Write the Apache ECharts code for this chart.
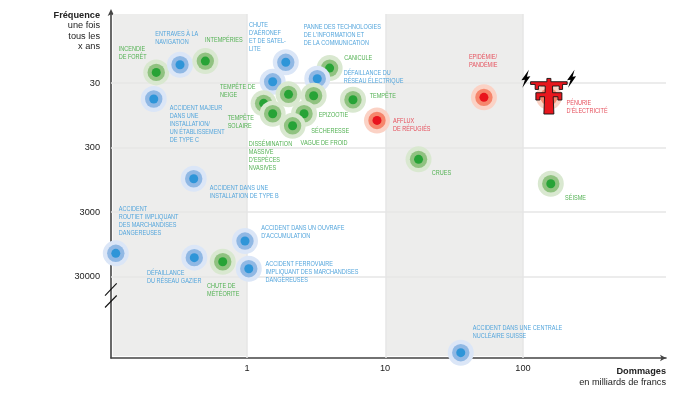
<!DOCTYPE html>
<html><head><meta charset="utf-8">
<style>html,body{margin:0;padding:0;background:#fff}#c{width:700px;height:393px}</style>
<script src="https://cdn.jsdelivr.net/npm/echarts@6/dist/echarts.min.js"></script>
</head><body><div id="c"></div>
<script>
// ---- data ----
const names = ["INCENDIE\nDE FORÊT","ENTRAVES À LA\nNAVIGATION","INTEMPÉRIES","CHUTE\nD'AÉRONEF\nET DE SATEL-\nLITE","PANNE DES TECHNOLOGIES\nDE L'INFORMATION ET\nDE LA COMMUNICATION","CANICULE","DÉFAILLANCE DU\nRÉSEAU ÉLECTRIQUE","ACCIDENT MAJEUR\nDANS UNE\nINSTALLATION/\nUN ÉTABLISSEMENT\nDE TYPE C","TEMPÊTE DE\nNEIGE","TEMPÊTE\nSOLAIRE","DISSÉMINATION\nMASSIVE\nD'ESPÈCES\nNVASIVES","EPIZOOTIE","SÉCHERESSE","VAGUE DE FROID","TEMPÊTE","AFFLUX\nDE RÉFUGIÉS","ACCIDENT DANS UNE\nINSTALLATION DE TYPE B","EPIDÉMIE/\nPANDÉMIE","PÉNURIE\nD'ÉLECTRICITÉ","CRUES","SÉISME","ACCIDENT\nROUTIET IMPLIQUANT\nDES MARCHANDISES\nDANGEREUSES","DÉFAILLANCE\nDU RÉSEAU GAZIER","CHUTE DE\nMÉTÉORITE","ACCIDENT DANS UN OUVRAFE\nD'ACCUMULATION","ACCIDENT FERROVIAIRE\nIMPLIQUANT DES MARCHANDISES\nDANGEREUSES","ACCIDENT DANS UNE CENTRALE\nNUCLÉAIRE SUISSE"];
const damages = [0.220,0.327,0.499,1.535,1.91,3.97,3.23,0.211,1.32,1.535,2.0,3.04,2.59,2.14,5.86,8.75,0.411,52.1,154,17.5,159,0.112,0.415,0.667,0.967,1.03,35.4];
const frequency = [20.5,15.6,13.7,28.7,14.3,17.6,25.7,53,61.9,89.8,44.9,47.2,89.8,138,54.5,114,914,50,48.9,457,1092,13100,15300,17700,8450,22700,455000];
const kinds = ["g","b","g","b","b","g","b","b","g","g","g","g","g","g","g","r","b","r","r","g","g","b","b","g","b","b","b"];
const yTicks = [30,300,3000,30000];
const xTicks = [1,10,100];
const shadedBands = [[0.1066,1],[10.2,100]];
const bandEdges = [1,10.2,100];
const yTitle = ["Fréquence","une fois","tous les","x ans"];
const xTitle = ["Dommages","en milliards de francs"];
const iconIndex = names.indexOf("PÉNURIE\nD'ÉLECTRICITÉ");

// ---- layout and style ----
const labelOffsets = [[-37.6,-23],[-24.7,-30.7],[-0.3,-21],[-23.7,-56.7],[18,-35.3],[14.6,-9.7],[26.4,-5.7],[16,8.7],[-43.7,-16.3],[-45,4],[-39.7,49.7],[5,19.3],[7.3,17.6],[8,17.6],[16.7,-3.4],[16,0.7],[16,9.3],[-15,-40],[17.7,6.6],[13.3,13.7],[14.3,14.6],[3,-44.6],[-47.3,15.6],[-15.7,24.3],[16.3,-13.3],[16.7,-4.7],[12,-24.4]];
const ringColors = {g:["#d9e8d0","#90c280","#27a336"],b:["#dbe6f7","#90b8e4","#2e95d8"],r:["#fbd2c5","#f6866c","#e9141d"]};
const textColors = {g:"#52b152",b:"#53a5dc",r:"#e6505c"};
const radii = [13,8.7,4.5];
const FONT = '"Liberation Sans",Arial,sans-serif';
const pylon = [[-2,-18.3],[2,-18.3],[2,-15],[18.3,-15],[18.3,-12.3],[13.7,-12.3],[13.7,-7.3],[10.3,-7.3],[10.3,-10.7],[3.7,-10.7],[3.7,-4],[13,-4],[13,3.3],[9,3.3],[9,0],[4.3,0],[5,17.3],[-5,17.3],[-4.3,0],[-9,0],[-9,3.3],[-13,3.3],[-13,-4],[-3.7,-4],[-3.7,-10.7],[-10.3,-10.7],[-10.3,-7.3],[-13.7,-7.3],[-13.7,-12.3],[-18.3,-12.3],[-18.3,-15],[-2,-15]];
const bolt = [[3,-9],[-4.5,1.5],[-1,1],[-3.5,9],[4.5,-2.5],[1,-2],[3,-9]];
const boltShift = [[-23,-18],[22.7,-18]];

const tableData = damages.map((d,i)=>[d,frequency[i],i]);
const chart = echarts.init(document.getElementById('c'),null,{renderer:'canvas'});

function titleText(lines,x,y0,step,firstBold){
  return lines.map((t,i)=>({type:'text',right:700-x,top:y0+i*step-5.5,silent:true,z:10,
    style:{text:t,font:(i===0&&firstBold?'bold ':'')+'9.2px "Liberation Sans",Arial,sans-serif',fill:'#222',textAlign:'right'}}));
}

chart.setOption({
  animation:false,
  backgroundColor:'#fff',
  grid:{left:111,right:34,top:14,bottom:35,containLabel:false},
  xAxis:{type:'log',logBase:10,min:0.1034,max:1087,
    axisLine:{onZero:false,symbol:['none','arrow'],symbolSize:[5,6],lineStyle:{color:'#444',width:1.6}},
    axisTick:{show:false},splitLine:{show:false},minorSplitLine:{show:false},
    axisLabel:{margin:6,fontSize:9.2,color:'#222',fontFamily:'"Liberation Sans",Arial,sans-serif',showMinLabel:true,showMaxLabel:true,hideOverlap:false,
      formatter:v=>{const m=xTicks.find(t=>Math.abs(t-v)<t*1e-6);return m?String(m):'';}}},
  yAxis:{type:'log',logBase:10,min:2.55,max:550000,inverse:true,
    axisLine:{onZero:false,symbol:['none','arrow'],symbolSize:[5,7],symbolOffset:[0,5],lineStyle:{color:'#444',width:1.6}},
    axisTick:{show:false},axisLabel:{show:false},splitLine:{show:false},minorSplitLine:{show:false}},
  series:[
    {type:'line',data:[],silent:true,z:1,
      markArea:{silent:true,itemStyle:{color:'#ededec'},
        data:shadedBands.map(b=>[{xAxis:b[0],yAxis:2.55},{xAxis:b[1],yAxis:513000}])},
      markLine:{silent:true,symbol:'none',animation:false,
        lineStyle:{color:'#e6e6e6',width:1.5,type:'solid'},
        data:yTicks.map(v=>({yAxis:v,label:{show:true,position:'start',distance:11,formatter:String(v),fontSize:9.2,color:'#222',fontFamily:'"Liberation Sans",Arial,sans-serif'}}))
          .concat(bandEdges.map(v=>({xAxis:v,label:{show:false}})))}
    },
    {type:'custom',name:'risques',coordinateSystem:'cartesian2d',z:5,silent:true,clip:false,
      data:tableData,encode:{x:0,y:1},
      renderItem:(p,api)=>{
        const i=api.value(2), c=api.coord([api.value(0),api.value(1)]), cols=ringColors[kinds[i]];
        const kids=radii.map((r,k)=>({type:'circle',shape:{cx:c[0],cy:c[1],r},style:{fill:cols[k]}}));
        if(i===iconIndex){
          kids.push({type:'polygon',shape:{points:pylon.map(q=>[c[0]+q[0],c[1]+q[1]])},style:{fill:'#e8161d',stroke:'#111',lineWidth:0.9}});
          boltShift.forEach(s=>kids.push({type:'polygon',shape:{points:bolt.map(q=>[c[0]+s[0]+q[0],c[1]+s[1]+q[1]])},style:{fill:'#000'}}));
        }
        return {type:'group',children:kids};
      }},
    {type:'custom',name:'etiquettes',coordinateSystem:'cartesian2d',z:6,silent:true,clip:false,
      data:tableData,encode:{x:0,y:1},
      renderItem:(p,api)=>{
        const i=api.value(2), c=api.coord([api.value(0),api.value(1)]), o=labelOffsets[i];
        return {type:'text',x:c[0]+o[0],y:c[1]+o[1]-4,scaleX:0.84,scaleY:1,
          style:{text:names[i],x:0,y:0,fill:textColors[kinds[i]],
          font:'6.6px '+FONT,lineHeight:8.1,textAlign:'left',textVerticalAlign:'top'}};
      }}
  ],
  graphic:[
    ...titleText(yTitle,100,16,10.6,true),
    ...titleText(xTitle,666,372.5,11,true),
    {type:'line',silent:true,z:10,shape:{x1:105,y1:295.7,x2:116.7,y2:283.3},style:{stroke:'#111',lineWidth:1.1}},
    {type:'line',silent:true,z:10,shape:{x1:105,y1:307.5,x2:116.7,y2:295.5},style:{stroke:'#111',lineWidth:1.1}}
  ]
});
</script></body></html>
